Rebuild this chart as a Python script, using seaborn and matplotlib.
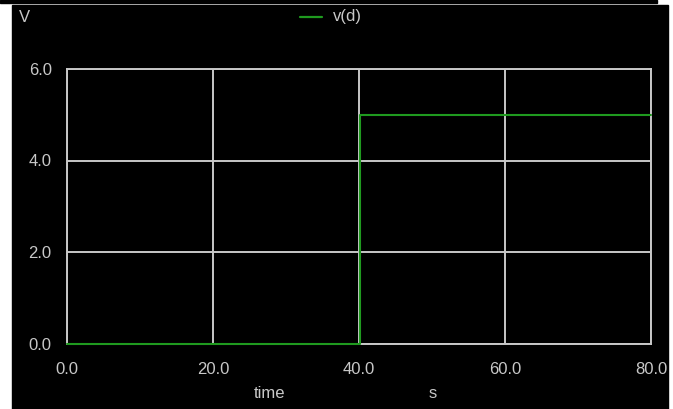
import seaborn as sns
import matplotlib.pyplot as plt
import matplotlib.patches as mpatches
import pandas as pd

# waveform v(d): 0 V until the step near 40 s, then 5 V
time = [0.0, 40.2, 80.0]
volts = [0.0, 5.0, 5.0]
xticks = [0.0, 20.0, 40.0, 60.0, 80.0]
yticks = [0.0, 2.0, 4.0, 6.0]

df = pd.DataFrame({"time": time, "v(d)": volts})

sns.set_style("dark")
plt.rcParams['font.family'] = ['Liberation Sans', 'DejaVu Sans']

fg = "#c8c8c8"
green = "#1f9a1f"

fig = plt.figure(figsize=(6.73, 4.09), dpi=100, facecolor="white")

# black panel behind the plot + thin black strip along the top
fig.patches.append(mpatches.Rectangle((12/673, 0), (668-12)/673, (409-5)/409,
                                      transform=fig.transFigure, color="black", zorder=-10))
fig.patches.append(mpatches.Rectangle((0, 1-3/409), 657/673, 3/409,
                                      transform=fig.transFigure, color="black", zorder=-10))

ax = fig.add_axes([67/673, 1-343.5/409, (651-67)/673, (343.5-69)/409])
ax.set_facecolor("black")

sns.lineplot(data=df, x="time", y="v(d)", ax=ax, color=green, linewidth=1.5,
             drawstyle="steps-post", sort=False, zorder=3, clip_on=False)

ax.set_xlim(0, 80)
ax.set_ylim(0, 6)
ax.set_xticks(xticks)
ax.set_yticks(yticks)
ax.set_xticklabels([f"{t:.1f}" for t in xticks])
ax.set_yticklabels([f"{t:.1f}" for t in yticks])
ax.tick_params(length=0, colors=fg, labelsize=12)
ax.tick_params(axis="x", pad=13)
ax.tick_params(axis="y", pad=11)
ax.grid(True, color=fg, linewidth=1.4)
for s in ax.spines.values():
    s.set_visible(True)
    s.set_color(fg)
    s.set_linewidth(1.4)
ax.set_xlabel("")
ax.set_ylabel("")

# labels around the plot
fig.text(24/673, 1-17/409, "V", color=fg, fontsize=12, ha="center", va="center")
fig.text(270/673, 1-393/409, "time", color=fg, fontsize=12, ha="center", va="center")
fig.text(433/673, 1-393/409, "s", color=fg, fontsize=12, ha="center", va="center")

# legend at top center
fig.add_artist(plt.Line2D([300/673, 322/673], [1-17/409, 1-17/409], color=green, linewidth=1.6,
                          transform=fig.transFigure))
fig.text(333/673, 1-17/409, "v(d)", color=fg, fontsize=12, ha="left", va="center")

fig.savefig("out.png", dpi=100, facecolor="white")
